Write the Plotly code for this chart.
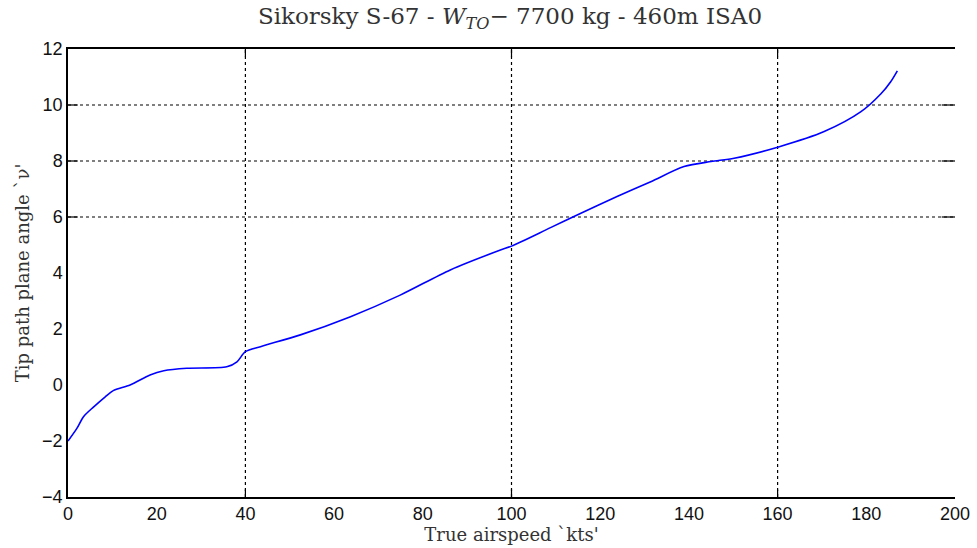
import plotly.graph_objects as go

# True airspeed [kts] and tip path plane angle [deg]
airspeed = [0, 2.0, 3.5, 5.8, 8.4, 10.2, 14.0, 18.5, 21.6, 26.8, 35.8, 38.1, 40.0,
            43.4, 52.4, 63.7, 74.9, 86.2, 97.5, 100.0, 108.8, 114.8, 123.8,
            131.4, 138.9, 145.0, 150.2, 160.4, 170.5, 178.8, 183.3, 185.5, 187.0]
tpp_angle = [-2.0, -1.55, -1.13, -0.78, -0.42, -0.2, 0.0, 0.36, 0.51, 0.6, 0.65, 0.83, 1.19,
             1.37, 1.79, 2.44, 3.21, 4.11, 4.82, 4.96, 5.62, 6.07, 6.73,
             7.26, 7.80, 7.98, 8.10, 8.51, 9.05, 9.76, 10.4, 10.83, 11.22]

x_ticks = [0, 20, 40, 60, 80, 100, 120, 140, 160, 180, 200]
y_ticks = [-4, -2, 0, 2, 4, 6, 8, 10, 12]
grid_x = [40, 100, 160]
grid_y = [6, 8, 10]

fig = go.Figure()
fig.add_trace(go.Scatter(x=airspeed, y=tpp_angle, mode="lines",
                         line=dict(color="#0000ff", width=1.6, shape="spline", smoothing=0.8),
                         showlegend=False, hoverinfo="skip"))

shapes = []
dot = dict(color="black", width=1.2, dash="dot")
solid = dict(color="black", width=1.2)
for gx in grid_x:
    shapes.append(dict(type="line", xref="x", yref="y domain", x0=gx, x1=gx, y0=0, y1=1, line=dot, layer="below"))
    shapes.append(dict(type="line", xref="x", yref="y domain", x0=gx, x1=gx, y0=0, y1=0.017, line=solid))
    shapes.append(dict(type="line", xref="x", yref="y domain", x0=gx, x1=gx, y0=0.983, y1=1, line=solid))
for gy in grid_y:
    shapes.append(dict(type="line", xref="x domain", yref="y", x0=0, x1=1, y0=gy, y1=gy, line=dot, layer="below"))
    shapes.append(dict(type="line", xref="x domain", yref="y", x0=0, x1=0.011, y0=gy, y1=gy, line=solid))
    shapes.append(dict(type="line", xref="x domain", yref="y", x0=0.985, x1=1, y0=gy, y1=gy, line=solid))

serif = "DejaVu Serif"
sans = "Liberation Sans"

fig.update_layout(
    width=977, height=548,
    margin=dict(l=68, r=22, t=49, b=51, autoexpand=False),
    paper_bgcolor="white", plot_bgcolor="white",
    shapes=shapes,
    title=dict(text="Sikorsky S-67 - <i>W</i><sub><i>TO</i></sub>\u2212 7700 kg - 460m ISA0",
               x=0.522, xanchor="center", y=0.985, yanchor="top",
               font=dict(family=serif, size=23, color="#333")),
    xaxis=dict(range=[0, 200], tickvals=x_ticks, ticks="", showgrid=False, zeroline=False,
               showline=True, linecolor="black", linewidth=1.5, mirror=True, automargin=False,
               tickfont=dict(family=sans, size=18, color="#111"),
               title=dict(text="True airspeed `kts'", standoff=0,
                          font=dict(family=serif, size=18, color="#333"))),
    yaxis=dict(range=[-4, 12], tickvals=y_ticks, ticks="", showgrid=False, zeroline=False,
               showline=True, linecolor="black", linewidth=1.5, mirror=False, automargin=False,
               tickfont=dict(family=sans, size=18, color="#111"),
               title=dict(text="Tip path plane angle `\u03bd'", standoff=8,
                          font=dict(family=serif, size=18, color="#333"))),
)

fig.write_html("out.html")
